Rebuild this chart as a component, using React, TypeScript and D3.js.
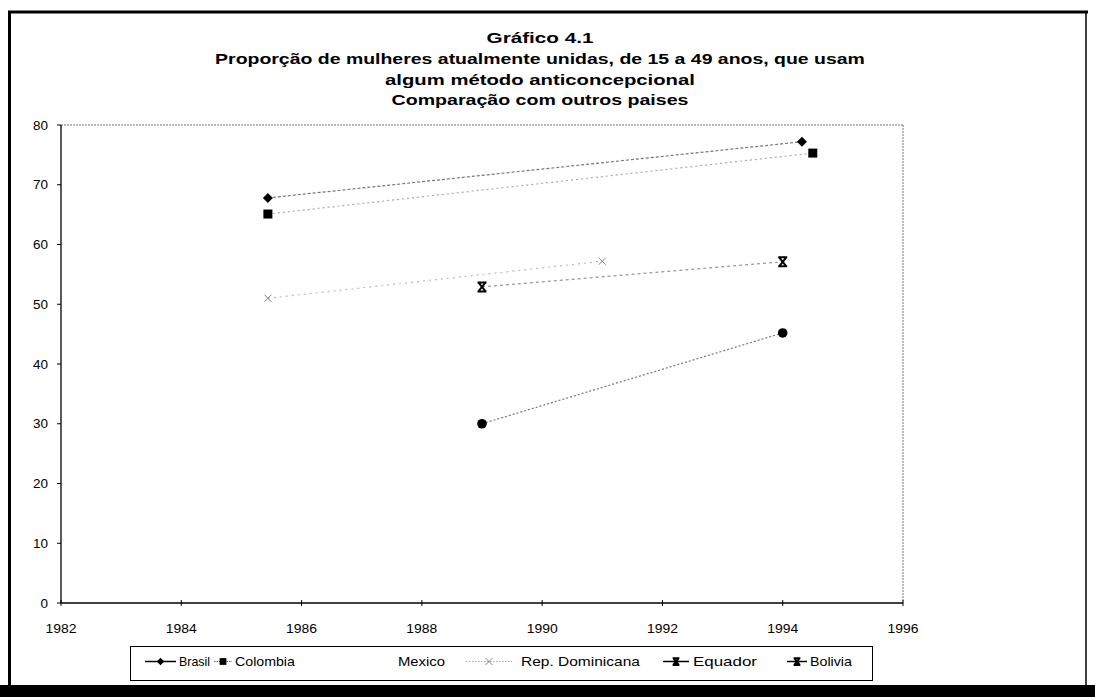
import React from "react";
import * as d3 from "d3";

const W = 1095;
const H = 697;

const titleLines = [
  "Gráfico 4.1",
  "Proporção de mulheres atualmente unidas, de 15 a 49 anos, que usam",
  "algum método anticoncepcional",
  "Comparação com outros paises",
];

const xTicks = [1982, 1984, 1986, 1988, 1990, 1992, 1994, 1996];
const yTicks = [0, 10, 20, 30, 40, 50, 60, 70, 80];

const brasilYears = [1985.44, 1994.32];
const brasilValues = [67.8, 77.2];
const colombiaYears = [1985.44, 1994.5];
const colombiaValues = [65.1, 75.3];
const mexicoYears: number[] = [];
const mexicoValues: number[] = [];
const repDomYears = [1985.44, 1991.0];
const repDomValues = [51.0, 57.2];
const equadorYears = [1989.0, 1994.0];
const equadorValues = [52.9, 57.1];
const boliviaYears = [1989.0, 1994.0];
const boliviaValues = [30.0, 45.2];

const seriesNames = ["Brasil", "Colombia", "Mexico", "Rep. Dominicana", "Equador", "Bolivia"];

type Series = {
  name: string;
  years: number[];
  values: number[];
  marker: string;
  legendMarker: string;
  lineColor: string;
  dash: string;
  legendColor: string;
  legendDash: string;
};

const series: Series[] = [
  { name: seriesNames[0], years: brasilYears, values: brasilValues, marker: "diamond", legendMarker: "diamond", lineColor: "#777", dash: "3 2", legendColor: "#000", legendDash: "" },
  { name: seriesNames[1], years: colombiaYears, values: colombiaValues, marker: "square", legendMarker: "square", lineColor: "#aaa", dash: "2 3", legendColor: "#666", legendDash: "1.5 1" },
  { name: seriesNames[2], years: mexicoYears, values: mexicoValues, marker: "none", legendMarker: "none", lineColor: "#fff", dash: "", legendColor: "#fff", legendDash: "" },
  { name: seriesNames[3], years: repDomYears, values: repDomValues, marker: "x", legendMarker: "x", lineColor: "#bbb", dash: "2 4", legendColor: "#aaa", legendDash: "1.5 1.5" },
  { name: seriesNames[4], years: equadorYears, values: equadorValues, marker: "bowtie", legendMarker: "bowtie", lineColor: "#999", dash: "3 3", legendColor: "#000", legendDash: "" },
  { name: seriesNames[5], years: boliviaYears, values: boliviaValues, marker: "circle", legendMarker: "bowtie", lineColor: "#777", dash: "2 2", legendColor: "#000", legendDash: "" },
];

// legend layout: [lineStart, lineEnd, textStart, textWidth]
const legendLayout = [
  [145, 176, 179, 31],
  [214, 232, 235, 60],
  [0, 0, 398, 47],
  [466, 512, 521, 119],
  [663, 689, 693, 64],
  [787, 807, 810, 42],
];

const FONT = "'Liberation Sans', Arial, sans-serif";
let ctx: CanvasRenderingContext2D | null = null;
function measure(text: string, size: number, bold: boolean): number {
  if (typeof document === "undefined") return text.length * size * 0.55;
  if (!ctx) ctx = document.createElement("canvas").getContext("2d");
  if (!ctx) return text.length * size * 0.55;
  ctx.font = `${bold ? "bold " : ""}${size}px ${FONT}`;
  return ctx.measureText(text).width;
}

function StretchText({
  text,
  x,
  y,
  width,
  size,
  bold,
  anchor,
}: {
  text: string;
  x: number;
  y: number;
  width: number;
  size: number;
  bold?: boolean;
  anchor: "start" | "middle" | "end";
}) {
  const nat = measure(text, size, !!bold);
  const sx = width / nat;
  return (
    <text
      transform={`translate(${x},${y}) scale(${sx},1)`}
      textAnchor={anchor}
      fontSize={size}
      fontWeight={bold ? "bold" : "normal"}
    >
      {text}
    </text>
  );
}

function Marker({ kind, x, y, legend }: { kind: string; x: number; y: number; legend?: boolean }) {
  const s = legend ? 0.75 : 1;
  switch (kind) {
    case "diamond": {
      const r = 5 * s;
      return <path d={`M${x},${y - r}L${x + r},${y}L${x},${y + r}L${x - r},${y}Z`} fill="#000" />;
    }
    case "square":
      return <rect x={x - 4.5 * s} y={y - 4.5 * s} width={9 * s} height={9 * s} fill="#000" />;
    case "x":
      return (
        <path
          d={`M${x - 3.5},${y - 3.5}L${x + 3.5},${y + 3.5}M${x + 3.5},${y - 3.5}L${x - 3.5},${y + 3.5}`}
          stroke="#888"
          strokeWidth={1}
          fill="none"
        />
      );
    case "bowtie": {
      const r = 4.5 * s;
      return (
        <path
          d={`M${x - r},${y - r}H${x + r}M${x - r},${y + r}H${x + r}M${x - r * 0.8},${y - r}L${x + r * 0.8},${y + r}M${x + r * 0.8},${y - r}L${x - r * 0.8},${y + r}`}
          stroke="#000"
          strokeWidth={2}
          fill="none"
        />
      );
    }
    case "circle":
      return <circle cx={x} cy={y} r={4.8 * s} fill="#000" />;
    default:
      return null;
  }
}

export default function App() {
  const x = d3.scaleLinear().domain([1982, 1996]).range([61, 903]);
  const y = d3.scaleLinear().domain([0, 80]).range([603, 125]);
  const line = d3
    .line<[number, number]>()
    .x((d) => x(d[0]))
    .y((d) => y(d[1]));

  const titleY = [43, 64, 85, 105];
  const titleW = [107, 650, 310, 297];
  const legendY = 666;

  return (
    <svg
      width={W}
      height={H}
      style={{ position: "absolute", left: 0, top: 0, background: "#fff" }}
      fontFamily={FONT}
    >
      <rect x={0} y={0} width={W} height={H} fill="#fff" />
      {/* outer frame */}
      <line x1={8} y1={12} x2={1088} y2={12} stroke="#000" strokeWidth={3} />
      <line x1={9.5} y1={11} x2={9.5} y2={697} stroke="#000" strokeWidth={3} />
      <line x1={1086} y1={12} x2={1086} y2={686} stroke="#000" strokeWidth={1.5} />
      <rect x={0} y={685} width={W} height={12} fill="#000" />

      {/* titles */}
      {titleLines.map((t, i) => (
        <StretchText key={i} text={t} x={540} y={titleY[i]} width={titleW[i]} size={14.5} bold anchor="middle" />
      ))}

      {/* plot area top/right borders */}
      <line x1={x(1982)} y1={y(80)} x2={x(1996)} y2={y(80)} stroke="#777" strokeDasharray="2 1" strokeWidth={1} />
      <line x1={x(1996)} y1={y(80)} x2={x(1996)} y2={y(0)} stroke="#777" strokeDasharray="2 1" strokeWidth={1} />

      {/* axes */}
      <line x1={x(1982)} y1={y(0)} x2={x(1996)} y2={y(0)} stroke="#000" strokeWidth={1.3} />
      <line x1={x(1982)} y1={y(0)} x2={x(1982)} y2={y(80)} stroke="#000" strokeWidth={1.3} />
      {yTicks.map((t) => (
        <g key={t}>
          <line x1={x(1982) - 4} x2={x(1982)} y1={y(t)} y2={y(t)} stroke="#000" />
          <StretchText text={String(t)} x={48} y={y(t) + 4.5} width={t === 0 ? 7.5 : 15} size={12} anchor="end" />
        </g>
      ))}
      {xTicks.map((t) => (
        <g key={t}>
          <line x1={x(t)} x2={x(t)} y1={y(0) - 3} y2={y(0) + 3} stroke="#000" />
          <StretchText text={String(t)} x={x(t)} y={633} width={31} size={12} anchor="middle" />
        </g>
      ))}

      {/* series lines */}
      {series.map((s) =>
        s.years.length > 1 ? (
          <path
            key={s.name + "l"}
            d={line(s.years.map((yr, i) => [yr, s.values[i]] as [number, number]))!}
            fill="none"
            stroke={s.lineColor}
            strokeWidth={1.2}
            strokeDasharray={s.dash}
          />
        ) : null
      )}
      {/* markers */}
      {series.map((s) =>
        s.years.map((yr, i) => <Marker key={s.name + i} kind={s.marker} x={x(yr)} y={y(s.values[i])} />)
      )}

      {/* legend */}
      <rect x={130.5} y={646.5} width={742} height={34} fill="#fff" stroke="#000" strokeWidth={1} />
      {series.map((s, i) => {
        const [l0, l1, tx, tw] = legendLayout[i];
        return (
          <g key={s.name + "lg"}>
            {s.legendMarker !== "none" && (
              <>
                <line
                  x1={l0}
                  x2={l1}
                  y1={legendY - 4.5}
                  y2={legendY - 4.5}
                  stroke={s.legendColor}
                  strokeWidth={s.legendDash ? 1 : 1.5}
                  strokeDasharray={s.legendDash}
                />
                <Marker kind={s.legendMarker} x={(l0 + l1) / 2} y={legendY - 4.5} legend />
              </>
            )}
            <StretchText text={s.name} x={tx} y={legendY} width={tw} size={12} anchor="start" />
          </g>
        );
      })}
    </svg>
  );
}
